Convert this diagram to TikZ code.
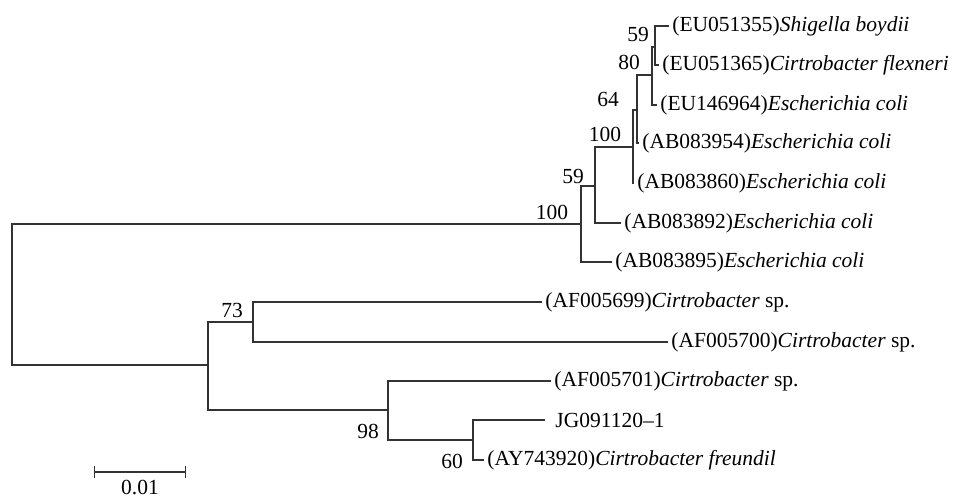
\documentclass[tikz,border=0pt]{standalone}
\usepackage{fontspec}
\setmainfont{Liberation Serif}
\usepackage{tikz}
\usetikzlibrary{
    arrows.meta,
    positioning
}
\definecolor{TreeGray}{HTML}{333333}
\tikzset{
    taxon/.style={
        anchor=west,
        inner xsep=1.5pt,
        inner ysep=0pt,
    },
    support/.style={
        inner sep=0pt,
    },
    branch/.style={
        draw=TreeGray,
        line width=0.65pt,
    },
}

\begin{document}
\begin{tikzpicture}[x=0.5pt,y=-0.5pt]
    \fontsize{10.75pt}{13pt}\selectfont
    \useasboundingbox (0,0) rectangle (956,498);

    \tikzset{
        scalebar/.style={branch,{Bar[width=6pt]}-{Bar[width=6pt]}},
    }

    \coordinate (root) at (12,294);
    \coordinate (ecoli) at (581,224);
    \coordinate (ecolisub) at (595,186);
    \coordinate (ab860) at (633,147);
    \coordinate (ab954) at (637,110);
    \coordinate (eu964) at (652,75);
    \coordinate (shig) at (655,47);
    \coordinate (citro) at (208,365);
    \coordinate (afsp) at (253,322);
    \coordinate (freund) at (388,410);
    \coordinate (jg) at (473,440);

    \node[taxon] (boydii) at (669,26) {(EU051355)\textit{Shigella boydii}};
    \node[taxon] (flexneri) at (659,65) {(EU051365)\textit{Cirtrobacter flexneri}};
    \node[taxon] (eu146964) at (657,105) {(EU146964)\textit{Escherichia coli}};
    \node[taxon] (ab083954) at (639,143) {(AB083954)\textit{Escherichia coli}};
    \node[taxon] (ab083860) at (634,183) {(AB083860)\textit{Escherichia coli}};
    \node[taxon] (ab083892) at (621,223) {(AB083892)\textit{Escherichia coli}};
    \node[taxon] (ab083895) at (612,262) {(AB083895)\textit{Escherichia coli}};
    \node[taxon] (af005699) at (542,302) {(AF005699)\textit{Cirtrobacter} sp.};
    \node[taxon] (af005700) at (668,342) {(AF005700)\textit{Cirtrobacter} sp.};
    \node[taxon] (af005701) at (551,381) {(AF005701)\textit{Cirtrobacter} sp.};
    \node[taxon,inner xsep=5pt] (jg091120) at (545,420) {JG091120--1};
    \node[taxon] (ay743920) at (484,460) {(AY743920)\textit{Cirtrobacter freundil}};

    \node[support] (bs-shig) at (638,34) {59};
    \node[support] (bs-eu964) at (629,62) {80};
    \node[support] (bs-ab954) at (608,99) {64};
    \node[support] (bs-ab860) at (605,134) {100};
    \node[support] (bs-ecolisub) at (573,176) {59};
    \node[support] (bs-ecoli) at (552,212) {100};
    \node[support] (bs-afsp) at (232,310) {73};
    \node[support] (bs-freund) at (368,431) {98};
    \node[support] (bs-jg) at (452,461) {60};

    \draw[branch] (root) |- (ecoli);
    \draw[branch] (root) |- (citro);

    \draw[branch] (ecoli) |- (ecolisub);
    \draw[branch] (ecoli) |- (ab083895.west);
    \draw[branch] (ecolisub) |- (ab860);
    \draw[branch] (ecolisub) |- (ab083892.west);
    \draw[branch] (ab860) |- (ab954);
    \draw[branch] (ab860) |- (ab083860.west);
    \draw[branch] (ab954) |- (eu964);
    \draw[branch] (ab954) |- (ab083954.west);
    \draw[branch] (eu964) |- (shig);
    \draw[branch] (eu964) |- (eu146964.west);
    \draw[branch] (shig) |- (boydii.west);
    \draw[branch] (shig) |- (flexneri.west);

    \draw[branch] (citro) |- (afsp);
    \draw[branch] (citro) |- (freund);
    \draw[branch] (afsp) |- (af005699.west);
    \draw[branch] (afsp) |- (af005700.west);
    \draw[branch] (freund) |- (af005701.west);
    \draw[branch] (freund) |- (jg);
    \draw[branch] (jg) |- (jg091120.west);
    \draw[branch] (jg) |- (ay743920.west);

    \coordinate (bar-l) at (94,472);
    \coordinate (bar-r) at (186,472);
    \draw[scalebar] (bar-l) -- (bar-r) coordinate[midway] (bar-m);
    \node[support,below=4pt of bar-m] (barlabel) {0.01};
\end{tikzpicture}
\end{document}
